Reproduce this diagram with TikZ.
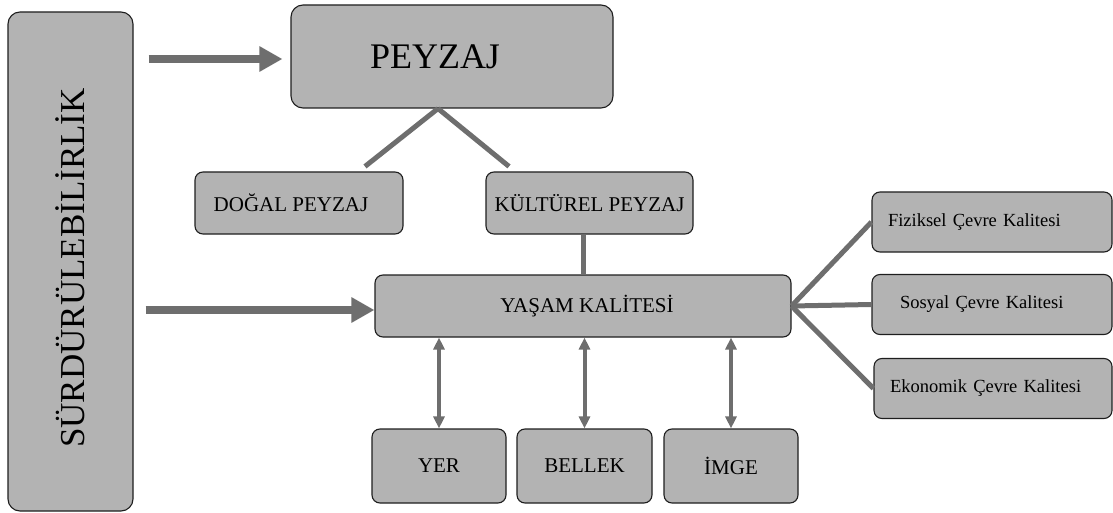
\documentclass[tikz,border=0pt]{standalone}
\usepackage{fontspec}
\setmainfont{Liberation Serif}
\usetikzlibrary{arrows.meta,calc,positioning}
\definecolor{Ink}{HTML}{1E1E1E}
\definecolor{BoxGray}{HTML}{B3B3B3}
\definecolor{LineGray}{HTML}{6E6E6E}
\tikzset{
  box/.style={
    rounded corners=8pt, draw=Ink, line width=1.1pt, fill=BoxGray,
    inner sep=2pt, align=center, font=\fontsize{21}{25}\selectfont
  },
  bigbox/.style={box, rounded corners=12pt, font=\fontsize{36}{40}\selectfont},
  sidebox/.style={
    box, minimum height=60pt, text width=208pt, inner xsep=16pt,
    align=left, font=\fontsize{18.5}{22}\selectfont
  },
  link/.style={line width=5pt, draw=LineGray},
  bigflow/.style={-{Triangle[length=23pt,width=24pt]}, line width=8pt, draw=LineGray},
  twoway/.style={{Triangle[length=12pt,width=11pt]}-{Triangle[length=12pt,width=11pt]},
    line width=4pt, draw=LineGray}
}

\begin{document}
\begin{tikzpicture}[x=1pt,y={(0pt,-1pt)}]
  \useasboundingbox (0,0) rectangle (1113,513);
  % left column
  \node[bigbox,rotate=90,minimum width=499pt,minimum height=125pt,
    font=\fontsize{35}{40}\selectfont] (sust) at (70.5,261.5)
    {SÜRDÜRÜLEBİLİRLİK\hspace*{13pt}};
  % landscape
  \node[bigbox,minimum width=322pt,minimum height=103pt] (peyzaj) at (452,56.5)
    {PEYZAJ\hspace*{34pt}};
  \node[box,minimum width=208pt,minimum height=62pt] (dogal) at (299,203)
    {DOĞAL PEYZAJ\hspace*{16pt}};
  \node[box,minimum width=207pt,minimum height=62pt] (kultur) at (589.5,203)
    {KÜLTÜREL PEYZAJ};
  % quality of life
  \node[box,minimum width=416pt,minimum height=62pt] (yasam) at (583,306)
    {\hspace*{8pt}YAŞAM KALİTESİ};
  \node[box,minimum width=134pt,minimum height=74pt] (yer) at (439,466) {YER};
  \node[box,minimum width=135pt,minimum height=74pt] (bellek) at (584.5,466) {BELLEK};
  \node[box,minimum width=134pt,minimum height=74pt] (imge) at (731,466) {İMGE};
  \node[sidebox] (fiz) at (992,222) {Fiziksel Çevre Kalitesi};
  \node[sidebox] (sosyal) at (992,304.5) {\hspace*{12pt}Sosyal Çevre Kalitesi};
  \node[sidebox,text width=206pt] (eko) at (993,388.5) {Ekonomik Çevre Kalitesi};

  % connectors
  \draw[bigflow] ($(sust.south |- peyzaj.west)+(15,2.5)$) -- ($(peyzaj.west)+(-8,2.5)$);
  \draw[bigflow] ($(sust.south |- yasam.west)+(12,4)$) -- ($(yasam.west)+(0,4)$);
  \coordinate (fork) at ($(peyzaj.south)+(-14,0)$);
  \draw[link] (fork) -- ($(dogal.north)+(66,-5)$);
  \draw[link] (fork) -- ($(kultur.north)+(-80.5,-5)$);
  \draw[link] (kultur.south -| yasam.north) -- (yasam.north);
  \foreach \n in {yer,bellek,imge}
    \draw[twoway] (\n.north |- yasam.south) -- (\n.north);
  \foreach \n in {fiz,sosyal,eko}
    \draw[link] (yasam.east) -- (\n.west);
\end{tikzpicture}
\end{document}
